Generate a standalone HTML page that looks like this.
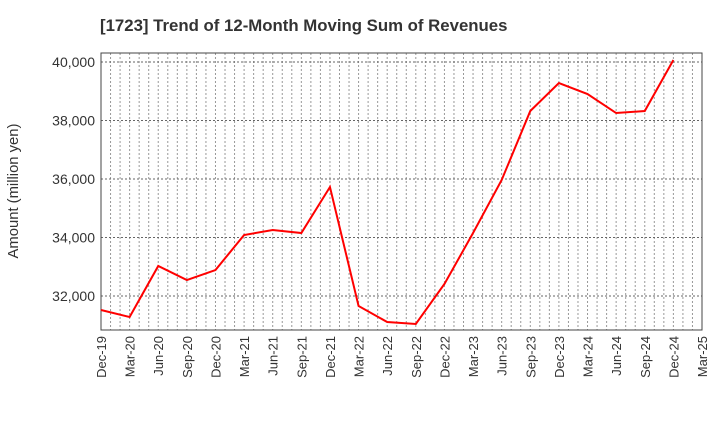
<!DOCTYPE html>
<html><head><meta charset="utf-8"><style>
body{margin:0;background:#fff;font-family:"Liberation Sans",sans-serif}
</style></head><body>
<svg id="chart" width="720" height="440" xmlns="http://www.w3.org/2000/svg">
<text x="100" y="31" font-size="16.8" font-weight="bold" fill="#333">[1723]  Trend of 12-Month Moving Sum of Revenues</text>
<text transform="translate(18,191) rotate(-90)" text-anchor="middle" font-size="14.8" fill="#333">Amount (million yen)</text>
<g id="grid"></g><g id="axes"></g><g id="series"></g>
</svg>
<script>
const categories=["Dec-19","Mar-20","Jun-20","Sep-20","Dec-20","Mar-21","Jun-21","Sep-21","Dec-21","Mar-22","Jun-22","Sep-22","Dec-22","Mar-23","Jun-23","Sep-23","Dec-23","Mar-24","Jun-24","Sep-24","Dec-24","Mar-25"];
const revenues=[31521,31282,33026,32547,32889,34085,34256,34154,35726,31658,31111,31043,32410,34154,35966,38325,39282,38906,38256,38325,40068];
const yTicks=[32000,34000,36000,38000,40000];
const yTickLabels=["32,000","34,000","36,000","38,000","40,000"];
const L=101,R=702,T=53,B=330,yMin=30838,yMax=40308;
const ns="http://www.w3.org/2000/svg";
const x=i=>L+(R-L)*i/(categories.length-1);
const y=v=>B-(v-yMin)/(yMax-yMin)*(B-T);
function mk(t,a,p){const e=document.createElementNS(ns,t);for(const k in a)e.setAttribute(k,a[k]);p.appendChild(e);return e;}
const grid=document.getElementById('grid'),axes=document.getElementById('axes'),series=document.getElementById('series');
for(let m=1;m<(categories.length-1)*3;m++){const xx=L+(R-L)*m/((categories.length-1)*3);
const g=mk('line',{x1:xx,x2:xx,y1:T,y2:B,stroke:'#999','stroke-width':1,'stroke-dasharray':'2,2'},grid);

}
yTicks.forEach((v,i)=>{const g=mk('line',{x1:L,x2:R,y1:y(v),y2:y(v),stroke:'#666','stroke-width':1,'stroke-dasharray':'2,2'},grid);


const t=mk('text',{x:L-6,y:y(v)+5,'text-anchor':'end','font-size':14,fill:'#333'},axes);t.textContent=yTickLabels[i];

});
categories.forEach((c,i)=>{const t=mk('text',{transform:`translate(${x(i)+5},${B+6}) rotate(-90)`,'text-anchor':'end','font-size':13,fill:'#333'},axes);t.textContent=c;

});
const fr=mk('rect',{x:L,y:T,width:R-L,height:B-T,fill:'none',stroke:'#444','stroke-width':1},axes);


const pl=mk('polyline',{points:revenues.map((v,i)=>x(i)+','+y(v)).join(' '),fill:'none',stroke:'#ff0000','stroke-width':2},series);


</script>
</body></html>
